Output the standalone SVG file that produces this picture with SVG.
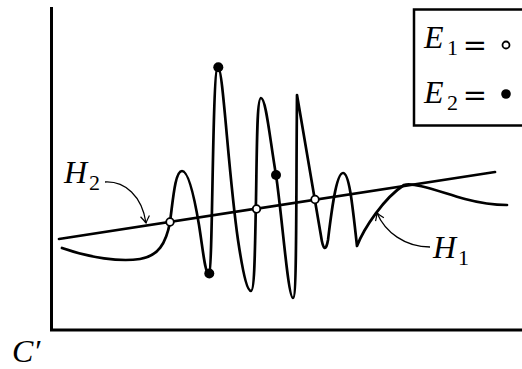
<svg xmlns="http://www.w3.org/2000/svg" width="522" height="369" viewBox="0 0 522 369">
<style>
.ax{fill:none;stroke:#000;stroke-width:3}
.cv{fill:none;stroke:#000;stroke-width:2.7;stroke-linejoin:round;stroke-linecap:round}
.ar{fill:none;stroke:#000;stroke-width:1.3}
.oc{fill:#fff;stroke:#000;stroke-width:1.8}
.fc{fill:#000}
.mi{font-family:"Liberation Serif",serif;font-style:italic;font-size:32px;fill:#000}
.sb{font-family:"Liberation Serif",serif;font-size:22px;fill:#000}
.eq{font-family:"DejaVu Serif",serif;font-size:29px;fill:#000}
</style>
<defs>
<marker id="ah" markerUnits="userSpaceOnUse" markerWidth="14" markerHeight="14" viewBox="-8 -7 10 14" refX="0" refY="0" orient="auto">
<path d="M-7,-4.5 Q-2,-1 0,0 Q-2,1 -7,4.5" fill="none" stroke="#000" stroke-width="1.2"/>
</marker>
</defs>
<rect width="522" height="369" fill="#fff"/>
<g id="axes">
<path class="ax" d="M51.5,7 V330 H522"/>
</g>
<g id="legend">
<rect x="414" y="9.5" width="120" height="116" fill="#fff" stroke="#000" stroke-width="2.5"/>
<text class="mi" x="424" y="48">E</text><text class="sb" x="447" y="55">1</text>
<text class="eq" x="475" y="55" text-anchor="middle">=</text>
<circle class="oc" cx="506" cy="45" r="3.5"/>
<text class="mi" x="424" y="103">E</text><text class="sb" x="447" y="110">2</text>
<text class="eq" x="475" y="105" text-anchor="middle">=</text>
<circle class="fc" cx="506" cy="94" r="4.8"/>
</g>
<g id="connectors">
<path class="cv" d="M59,239 L495,172"/>
<path class="cv" d="M62,248 C90,258 120,262 140,259 C158,256 166,244 170,222 C173,200 175,171 182,171 C188,171 194,195 199,225 C203,250 205,274 209,274 C213,272 212,67 218,67 C223,67 228,170 238,240 C244,280 248,291 251,291 C255,291 255,240 256,200 C257,140 257,98 261,98 C266,98 270,140 276,175 C282,215 288,298 293,298 C297,298 296,200 297,95 L321,236 C323,250 326,252 328,240 C331,215 336,173 343,173 C349,173 352,200 357,246 C364,228 384,198 404,185 C415,182 440,192 465,199 C480,203 495,205 507,205"/>
<path class="ar" d="M105,182 C125,181 142,196 146,223" marker-end="url(#ah)"/>
<path class="ar" d="M430,247 C405,247 385,232 377,213" marker-end="url(#ah)"/>
</g>
<g id="points">
<circle class="oc" cx="170" cy="222" r="3.8"/>
<circle class="oc" cx="256.5" cy="209" r="3.8"/>
<circle class="oc" cx="315" cy="199.5" r="3.8"/>
<circle class="fc" cx="218.3" cy="67.3" r="5"/>
<circle class="fc" cx="209.3" cy="273.5" r="5"/>
<circle class="fc" cx="276" cy="175" r="5"/>
</g>
<g id="labels">
<text class="mi" x="64" y="183">H</text><text class="sb" x="89" y="190">2</text>
<text class="mi" x="433" y="258">H</text><text class="sb" x="458" y="265">1</text>
<text class="mi" x="12" y="362">C′</text>
</g>
</svg>
